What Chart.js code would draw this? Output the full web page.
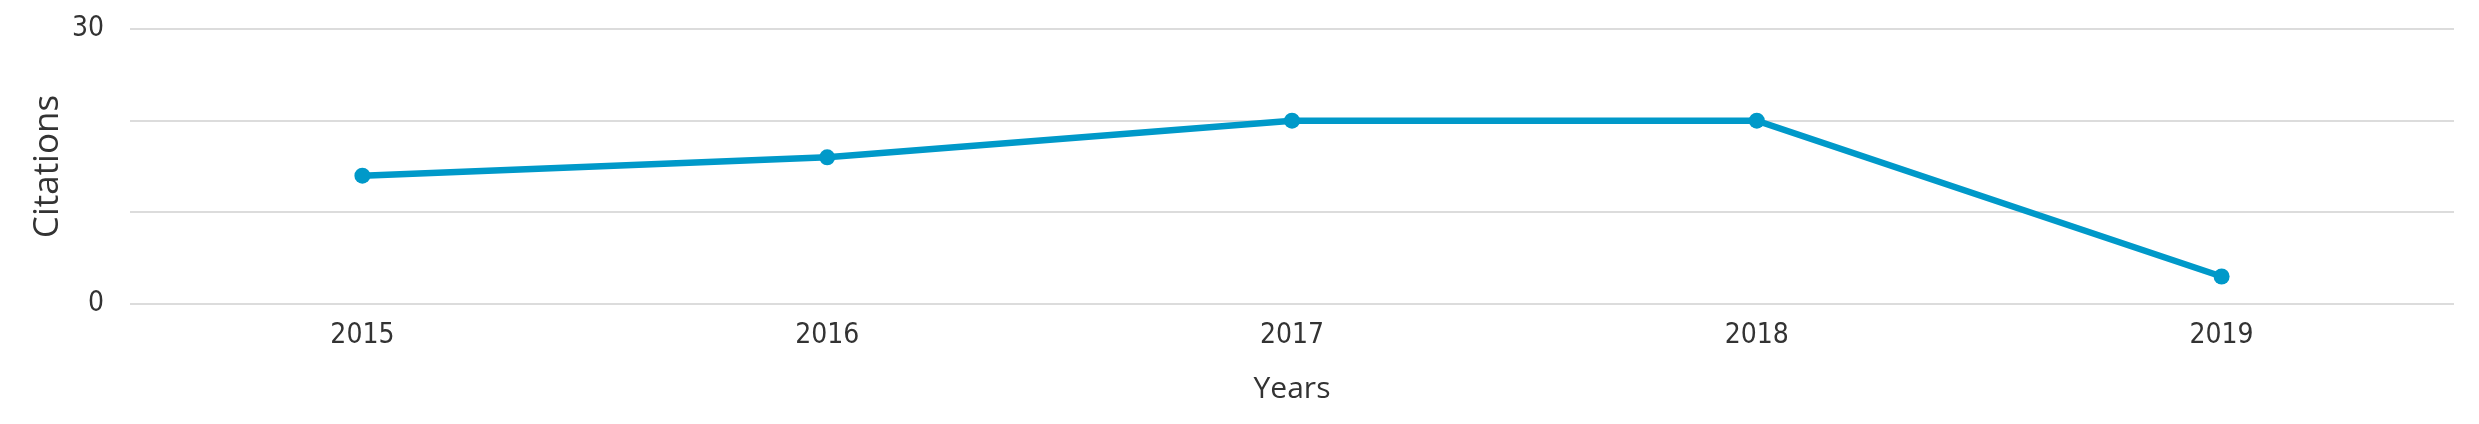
<!DOCTYPE html>
<html>
<head>
<meta charset="utf-8">
<script src="https://cdn.jsdelivr.net/npm/chart.js@4/dist/chart.umd.min.js"></script>
<style>
  html, body { margin: 0; padding: 0; background: #fff; }
  #wrap { width: 2479px; height: 424px; }
</style>
</head>
<body>
<div id="wrap"><canvas id="citationsChart"></canvas></div>
<script>
const years = ['2015', '2016', '2017', '2018', '2019'];
const citations = [14, 16, 20, 20, 3];
const yTicks = [0, 30];

const lineColor = '#0099c9';
const gridColor = '#dcdcdc';
const tickFont = "'Liberation Sans Narrow', 'DejaVu Sans Condensed', sans-serif";
const titleFont = "'Open Sans', 'Liberation Sans', sans-serif";

const ctx = document.getElementById('citationsChart');

new Chart(ctx, {
    type: 'line',
    data: {
        labels: years,
        datasets: [
            {
                label: 'Citations',
                data: citations,
                borderColor: lineColor,
                backgroundColor: lineColor,
                borderWidth: 6.5,
                pointRadius: 8,
                pointBorderWidth: 0,
                tension: 0
            }
        ]
    },
    options: {
        responsive: true,
        maintainAspectRatio: false,
        animation: false,
        layout: {
            padding: { top: 29, right: 25, bottom: 12, left: 0 }
        },
        plugins: {
            legend: { display: false },
            tooltip: { enabled: false }
        },
        scales: {
            x: {
                offset: true,
                grid: { display: false, drawTicks: false },
                border: { display: false },
                ticks: {
                    color: '#333',
                    padding: 15,
                    font: { family: tickFont, size: 28 }
                },
                title: {
                    display: true,
                    text: 'Years',
                    color: '#333',
                    padding: { top: 4, bottom: 5 },
                    font: { family: titleFont, size: 30 }
                },
                afterFit: scale => { scale.height = 108; }
            },
            y: {
                min: 0,
                max: 30,
                grid: { color: gridColor, lineWidth: 2, drawTicks: false },
                border: { display: false },
                ticks: {
                    stepSize: 10,
                    color: '#333',
                    padding: 26,
                    font: { family: tickFont, size: 28 },
                    callback: value => yTicks.includes(value) ? value : ''
                },
                title: {
                    display: true,
                    text: 'Citations',
                    color: '#333',
                    padding: { top: 27, bottom: 0 },
                    font: { family: titleFont, size: 35 }
                },
                afterFit: scale => {
                    scale.width = 130;
                    scale.paddingTop = 0;
                    scale.paddingBottom = 0;
                }
            }
        }
    }
});
</script>
</body>
</html>
